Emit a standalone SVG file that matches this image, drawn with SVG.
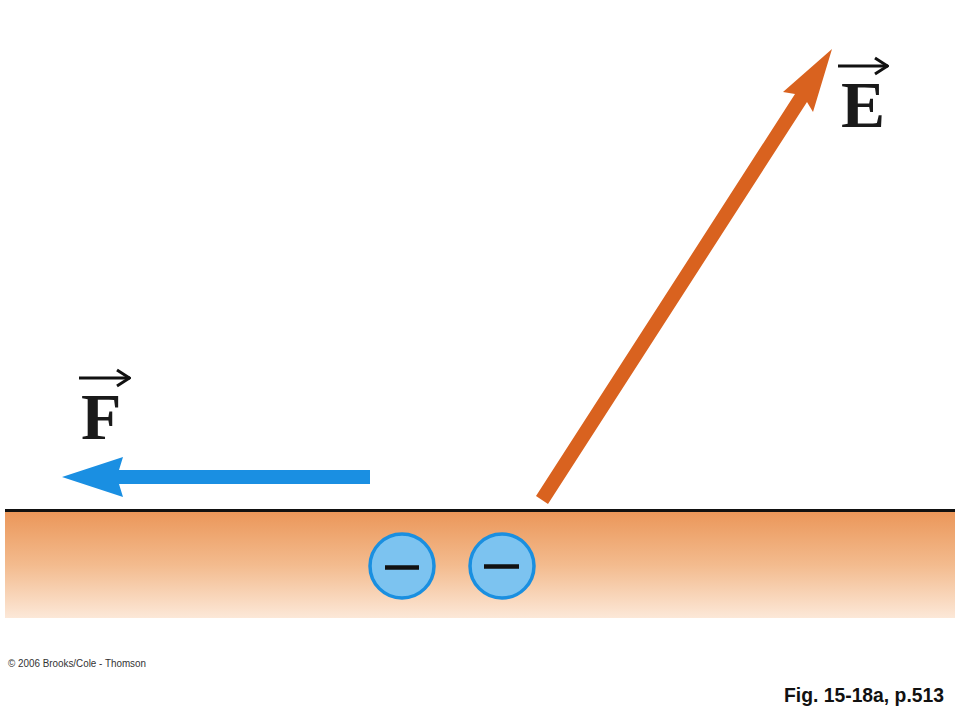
<svg xmlns="http://www.w3.org/2000/svg" width="960" height="720" viewBox="0 0 960 720">
<defs>
<linearGradient id="ground" x1="0" y1="0" x2="0" y2="1">
<stop offset="0" stop-color="#eb975a"/>
<stop offset="0.5" stop-color="#f3bb8e"/>
<stop offset="1" stop-color="#fce8d8"/>
</linearGradient>
<marker id="vec" viewBox="0 0 16 20" refX="15" refY="10" markerWidth="16" markerHeight="20" markerUnits="userSpaceOnUse" orient="auto">
<path d="M2,2 L14.5,10 L2,18" fill="none" stroke="#111" stroke-width="3"/>
</marker>
</defs>
<style>
.lbl{font-family:"Liberation Serif","Times New Roman",serif;font-weight:bold;font-size:66px;fill:#1a1a1a}
.vecbar{stroke:#111;stroke-width:3.2;fill:none}
.charge circle{fill:#7cc3f0;stroke:#1a8fe0;stroke-width:3.5}
.charge line{stroke:#111;stroke-width:4.5}
</style>
<rect width="960" height="720" fill="#ffffff"/>
<g id="ground-layer">
<rect x="5" y="512" width="950" height="106" fill="url(#ground)"/>
<line x1="5" y1="510.5" x2="955" y2="510.5" stroke="#111" stroke-width="3"/>
</g>
<g id="connectors">
<g id="force-arrow">
<polygon points="62,477 123,457 119,470 370,470 370,484 119,484 123,497" fill="#1a8fe2"/>
</g>
<g id="field-arrow">
<polygon points="536,496 795,94 783,92 832,49 813,112 807,102 548,504" fill="#d9621f"/>
</g>
</g>
<g id="charge1" class="charge">
<circle cx="402" cy="566" r="32"/>
<line x1="385" y1="567.5" x2="419" y2="567.5"/>
</g>
<g id="charge2" class="charge">
<circle cx="502" cy="566" r="32"/>
<line x1="484" y1="566.5" x2="519" y2="566.5"/>
</g>
<g id="label-E">
<line class="vecbar" x1="838" y1="66" x2="888" y2="66" marker-end="url(#vec)"/>
<text class="lbl" x="841" y="127">E</text>
</g>
<g id="label-F">
<line class="vecbar" x1="79" y1="378" x2="130" y2="378" marker-end="url(#vec)"/>
<text class="lbl" x="81" y="439">F</text>
</g>
<text x="8" y="667" font-family="Liberation Sans, Arial, sans-serif" font-size="10" fill="#333" textLength="138" lengthAdjust="spacingAndGlyphs">© 2006 Brooks/Cole - Thomson</text>
<text x="784" y="702" font-family="Liberation Sans, Arial, sans-serif" font-weight="bold" font-size="20" fill="#111" textLength="160" lengthAdjust="spacingAndGlyphs">Fig. 15-18a, p.513</text>
</svg>
